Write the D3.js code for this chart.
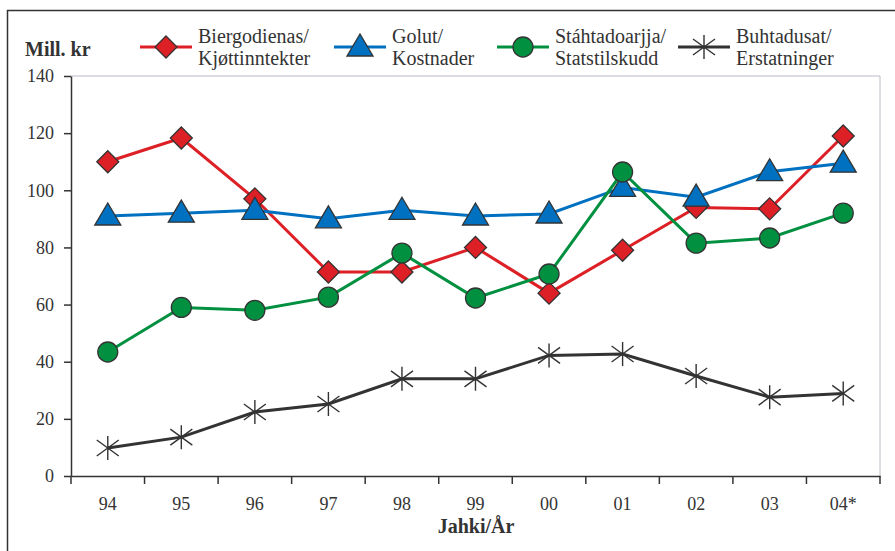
<!DOCTYPE html>
<html>
<head>
<meta charset="utf-8">
<script src="https://cdn.jsdelivr.net/npm/d3@7"></script>
<style>
  body { margin: 0; background: #fff; }
</style>
</head>
<body>
<svg id="chart"></svg>
<script>
// data
var years = ["94", "95", "96", "97", "98", "99", "00", "01", "02", "03", "04*"];
var kjott = [110, 118.3, 97, 71.4, 71.4, 80, 64, 79, 94, 93.5, 119];
var kostnader = [91, 92, 93, 90, 93, 91, 91.7, 101, 97.6, 106.5, 109.5];
var statstilskudd = [43.4, 59, 58, 62.6, 78, 62.3, 70.7, 106.4, 81.5, 83.3, 92];
var erstatninger = [9.8, 13.6, 22.4, 25.2, 34, 34, 42.2, 42.7, 35, 27.6, 28.9];
var yTicks = [0, 20, 40, 60, 80, 100, 120, 140];

var series = [
  { name: ["Biergodienas/", "Kjøttinntekter"], values: kjott, color: "#dd1f26", marker: "diamond", lx: 140 },
  { name: ["Golut/", "Kostnader"], values: kostnader, color: "#0070c0", marker: "triangle", lx: 334 },
  { name: ["Stáhtadoarjja/", "Statstilskudd"], values: statstilskudd, color: "#009040", marker: "circle", lx: 497 },
  { name: ["Buhtadusat/", "Erstatninger"], values: erstatninger, color: "#333333", marker: "star", lx: 678 }
];

var width = 895, height = 551;
var margins = { left: 71, right: 15, top: 76, bottom: 75 };
var FONT = "Liberation Serif";

var svg = d3.select("svg#chart").attr("width", width).attr("height", height)
  .attr("font-family", FONT);

// outer frame
svg.append("rect")
  .attr("x", 7.5).attr("y", 10.5)
  .attr("width", 900).attr("height", 560)
  .attr("fill", "none").attr("stroke", "#333").attr("stroke-width", 1.5);

var xScale = d3.scaleBand().domain(years)
  .range([margins.left, width - margins.right]);
var yScale = d3.scaleLinear().domain([0, 140])
  .range([height - margins.bottom, margins.top]);

// plot area border (light grey top and right)
svg.append("path")
  .attr("d", `M${margins.left},${yScale(140)}H${width - margins.right}V${yScale(0)}`)
  .attr("fill", "none").attr("stroke", "#b8bcc8").attr("stroke-width", 1);

// y axis
var yAxis = svg.append("g")
  .attr("transform", `translate(${margins.left},0)`)
  .call(d3.axisLeft(yScale).tickValues(yTicks).tickSize(7).tickPadding(10).tickSizeOuter(0));
yAxis.attr("font-family", FONT).attr("font-size", 18);
yAxis.select(".domain").attr("stroke", "#333").attr("stroke-width", 1.5);
yAxis.selectAll(".tick line").attr("stroke", "#333").attr("stroke-width", 1.5);
yAxis.selectAll("text").attr("fill", "#333");

// x axis with ticks at band boundaries
var xAxis = svg.append("g")
  .attr("transform", `translate(0,${yScale(0)})`)
  .call(d3.axisBottom(xScale).tickSize(0).tickPadding(21).tickSizeOuter(0));
xAxis.attr("font-family", FONT).attr("font-size", 18);
xAxis.select(".domain").attr("stroke", "#333").attr("stroke-width", 1.5);
xAxis.selectAll("text").attr("fill", "#333");
var bounds = years.map((d) => xScale(d)).concat([xScale(years[years.length - 1]) + xScale.bandwidth()]);
svg.append("g").selectAll("line")
  .data(bounds)
  .join("line")
  .attr("x1", (d) => d).attr("x2", (d) => d)
  .attr("y1", yScale(0)).attr("y2", yScale(0) + 8)
  .attr("stroke", "#333").attr("stroke-width", 1.5);

// axis titles
svg.append("text").attr("x", 25).attr("y", 56).attr("fill", "#333")
  .attr("font-size", 20).attr("font-weight", "bold").text("Mill. kr");
svg.append("text").attr("x", 476).attr("y", 533).attr("text-anchor", "middle").attr("fill", "#333")
  .attr("font-size", 20).attr("font-weight", "bold").text("Jahki/År");

function cx(i) { return xScale(years[i]) + xScale.bandwidth() / 2; }

function drawMarker(g, type, color) {
  if (type === "diamond") {
    g.append("path").attr("d", "M0,-11L11,0L0,11L-11,0Z")
      .attr("fill", color).attr("stroke", "#333").attr("stroke-width", 1.3);
  } else if (type === "triangle") {
    g.append("path").attr("d", "M0,-13L13,9L-13,9Z")
      .attr("fill", color).attr("stroke", "#333").attr("stroke-width", 1.3);
  } else if (type === "circle") {
    g.append("circle").attr("r", 10)
      .attr("fill", color).attr("stroke", "#333").attr("stroke-width", 1.3);
  } else {
    g.append("path").attr("d", "M0,-12V12M-11,-8L11,8M-11,8L11,-8")
      .attr("fill", "none").attr("stroke", "#333").attr("stroke-width", 1.4);
  }
}

var line = d3.line().x((d, i) => cx(i)).y((d) => yScale(d));

series.forEach((s) => {
  svg.append("path")
    .attr("d", line(s.values))
    .attr("fill", "none")
    .attr("stroke", s.color)
    .attr("stroke-width", 3);
});

series.forEach((s) => {
  svg.append("g").selectAll("g")
    .data(s.values)
    .join("g")
    .attr("transform", (d, i) => `translate(${cx(i)},${yScale(d)})`)
    .each(function () { drawMarker(d3.select(this), s.marker, s.color); });
});

// legend
series.forEach((s) => {
  var lg = svg.append("g").attr("transform", `translate(${s.lx},47)`);
  lg.append("line").attr("x1", 0).attr("x2", 52).attr("y1", 0).attr("y2", 0)
    .attr("stroke", s.color).attr("stroke-width", 3);
  var m = lg.append("g").attr("transform", "translate(26,0)");
  drawMarker(m, s.marker, s.color);
  lg.append("text").attr("x", 58).attr("y", -4).attr("font-size", 20).attr("fill", "#333").text(s.name[0]);
  lg.append("text").attr("x", 58).attr("y", 18).attr("font-size", 20).attr("fill", "#333").text(s.name[1]);
});
</script>
</body>
</html>
